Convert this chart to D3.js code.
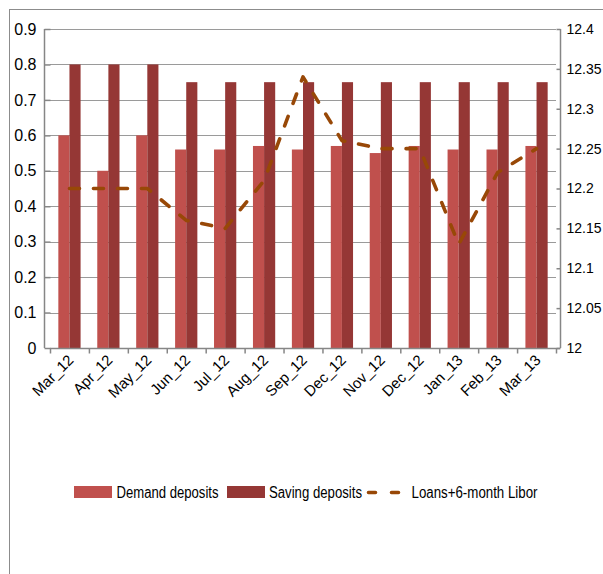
<!DOCTYPE html>
<html>
<head>
<meta charset="utf-8">
<script src="https://cdn.jsdelivr.net/npm/d3@7"></script>
<style>
  body { margin: 0; background: #fff; }
  svg text { font-family: "Liberation Sans", Arial, sans-serif; fill: #000; }
</style>
</head>
<body>
<svg id="chart" width="603" height="574"></svg>
<script>
// Monthly rates: demand and saving deposits (left axis), loan rate (right axis)
const months = ["Mar_12", "Apr_12", "May_12", "Jun_12", "Jul_12", "Aug_12", "Sep_12",
                "Dec_12", "Nov_12", "Dec_12", "Jan_13", "Feb_13", "Mar_13"];
const demandDeposits = [0.60, 0.50, 0.60, 0.56, 0.56, 0.57, 0.56, 0.57, 0.55, 0.57, 0.56, 0.56, 0.57];
const savingDeposits = [0.80, 0.80, 0.80, 0.75, 0.75, 0.75, 0.75, 0.75, 0.75, 0.75, 0.75, 0.75, 0.75];
const loansLibor = [12.20, 12.20, 12.20, 12.16, 12.15, 12.21, 12.34, 12.26, 12.25, 12.25, 12.13, 12.22, 12.25];
const leftTicks = [0, 0.1, 0.2, 0.3, 0.4, 0.5, 0.6, 0.7, 0.8, 0.9];
const rightTicks = [12, 12.05, 12.1, 12.15, 12.2, 12.25, 12.3, 12.35, 12.4];
const seriesNames = ["Demand deposits", "Saving deposits", "Loans+6-month Libor"];

const colDemand = "#C0504D", colSaving = "#953735", colLine = "#984807";
const gridCol = "#9a9a9a", axisCol = "#868686";

const svg = d3.select("#chart");
const plot = { left: 50, right: 556, top: 29, bottom: 348 };

// outer chart frame
svg.append("rect").attr("x", 9.5).attr("y", 9.5).attr("width", 620).attr("height", 600)
  .attr("fill", "none").attr("stroke", "#8c8c8c").attr("stroke-width", 1);

const x = d3.scaleBand().domain(d3.range(months.length)).range([plot.left, plot.right]).paddingInner(0).paddingOuter(0);
const yL = d3.scaleLinear().domain([0, 0.9]).range([plot.bottom, plot.top]);
const yR = d3.scaleLinear().domain([12, 12.4]).range([plot.bottom, plot.top]);

// two bars per category with a 150% gap width
const inner = d3.scaleBand().domain([0, 1]).range([0, x.bandwidth()]).paddingInner(0).paddingOuter(0.75);

// gridlines
svg.append("g").selectAll("line").data(leftTicks.slice(1)).join("line")
  .attr("x1", plot.left).attr("x2", plot.right)
  .attr("y1", d => Math.round(yL(d)) + 0.5).attr("y2", d => Math.round(yL(d)) + 0.5)
  .attr("stroke", gridCol).attr("stroke-width", 1.2);

// bars
const groups = svg.append("g").selectAll("g").data(months).join("g")
  .attr("transform", (d, i) => `translate(${x(i)},0)`);
groups.append("rect")
  .attr("x", inner(0)).attr("width", inner.bandwidth())
  .attr("y", (d, i) => yL(demandDeposits[i]))
  .attr("height", (d, i) => yL(0) - yL(demandDeposits[i]))
  .attr("fill", colDemand);
groups.append("rect")
  .attr("x", inner(1)).attr("width", inner.bandwidth())
  .attr("y", (d, i) => yL(savingDeposits[i]))
  .attr("height", (d, i) => yL(0) - yL(savingDeposits[i]))
  .attr("fill", colSaving);

// left axis
const axL = svg.append("g").attr("transform", `translate(${plot.left + 0.5},0)`)
  .call(d3.axisLeft(yL).tickValues(leftTicks).tickSize(6).tickPadding(8)
    .tickFormat(d => d === 0 ? "0" : d3.format(".1f")(d)));
// right axis
const axR = svg.append("g").attr("transform", `translate(${plot.right + 0.5},0)`)
  .call(d3.axisRight(yR).tickValues(rightTicks).tickSize(4).tickPadding(6)
    .tickFormat(d => String(+d.toFixed(2))));
// bottom axis with ticks at category boundaries
const xb = d3.scaleLinear().domain([0, months.length]).range([plot.left, plot.right]);
const axB = svg.append("g").attr("transform", `translate(0,${plot.bottom + 0.5})`)
  .call(d3.axisBottom(xb).tickValues(d3.range(months.length + 1)).tickSize(5).tickFormat(""));

[axL, axR, axB].forEach(a => {
  a.select(".domain").attr("stroke", axisCol).attr("stroke-width", 1.5);
  a.selectAll(".tick line").attr("stroke", axisCol).attr("stroke-width", 1.5);
  a.selectAll("text").attr("font-size", 16).attr("font-family", null);
});
axR.selectAll("text").attr("font-size", 14);
axL.select(".domain").attr("d", `M-6,${plot.bottom}V${plot.top}`);
axR.select(".domain").attr("d", `M4,${plot.bottom}V${plot.top}`);
axB.select(".domain").attr("d", `M${plot.left},0H${plot.right + 4}`);

// rotated category labels
svg.append("g").selectAll("text").data(months).join("text")
  .attr("transform", (d, i) => `translate(${x(i) + x.bandwidth() / 2 + 5},${plot.bottom + 13}) rotate(-45)`)
  .attr("text-anchor", "end")
  .attr("font-size", 15)
  .text(d => d);

// dashed loan-rate line on the right axis
const line = d3.line().x((d, i) => x(i) + x.bandwidth() / 2).y(d => yR(d));
svg.append("path").datum(loansLibor)
  .attr("d", line)
  .attr("fill", "none").attr("stroke", colLine).attr("stroke-width", 3.6)
  .attr("stroke-linecap", "round").attr("stroke-linejoin", "round")
  .attr("stroke-dasharray", "10 14");

// legend (narrow type, widths fitted)
const lg = svg.append("g").attr("transform", "translate(0,492)");
lg.append("rect").attr("x", 74).attr("y", -6).attr("width", 38).attr("height", 12).attr("fill", colDemand);
lg.append("text").attr("x", 116.5).attr("y", 6).attr("font-size", 16)
  .attr("textLength", 102).attr("lengthAdjust", "spacingAndGlyphs").text(seriesNames[0]);
lg.append("rect").attr("x", 227).attr("y", -6).attr("width", 38).attr("height", 12).attr("fill", colSaving);
lg.append("text").attr("x", 269).attr("y", 6).attr("font-size", 16)
  .attr("textLength", 93).attr("lengthAdjust", "spacingAndGlyphs").text(seriesNames[1]);
lg.append("line").attr("x1", 368.5).attr("x2", 402.5).attr("y1", 0.5).attr("y2", 0.5)
  .attr("stroke", colLine).attr("stroke-width", 3.6).attr("stroke-linecap", "round")
  .attr("stroke-dasharray", "7 16");
lg.append("text").attr("x", 411.5).attr("y", 6).attr("font-size", 16)
  .attr("textLength", 126).attr("lengthAdjust", "spacingAndGlyphs").text(seriesNames[2]);
</script>
</body>
</html>
